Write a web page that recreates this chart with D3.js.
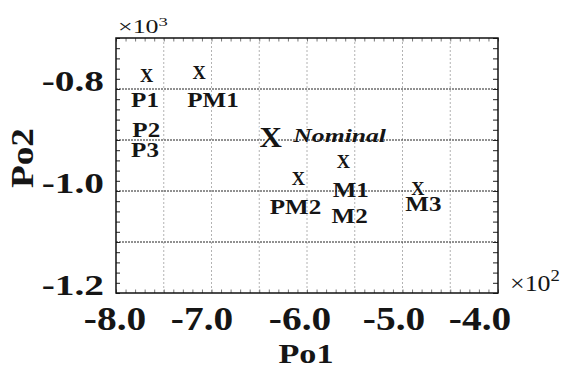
<!DOCTYPE html>
<html><head><meta charset="utf-8">
<script src="https://cdn.jsdelivr.net/npm/d3@7"></script>
<style>body{margin:0;background:#fff}</style></head>
<body>
<svg id="c" width="563" height="367"></svg>
<script>
// ---- data ----
const po1Domain = [-800, -400];
const po2Domain = [-1200, -700];
const po1TickValues = [-800, -700, -600, -500, -400];
const po2TickValues = [-800, -1000, -1200];
const po1Grid = [-750, -700, -650, -600, -550, -500, -450];
const po2Grid = [-800, -900, -1000, -1100];

const markerNames = ["P1", "PM1", "Nominal", "PM2", "M1", "M3"];
const markerPo1 = [-768, -713, -638, -609, -562, -484];
const markerPo2 = [-774, -769, -895, -976, -944, -996];

const labelTexts = ["P1", "PM1", "P2", "P3", "PM2", "M1", "M2", "M3"];
const labelPo1 = [-769.6, -698.4, -768.3, -769.6, -612.0, -554.2, -555.3, -478.2];
const labelPo2 = [-834.5, -834.5, -893.4, -932.6, -1045.5, -1012.1, -1063.2, -1038.6];

const nominalText = "Nominal";
const nominalPo1 = -614.3;
const nominalPo2 = -903.6;

// ---- layout ----
const L = 116, R = 498, T = 38, B = 293;
const xLabelNudge = [-1, -9.5, -7, -8.5, -18];
const svg = d3.select("#c");
const x = d3.scaleLinear().domain(po1Domain).range([L, R]);
const y = d3.scaleLinear().domain(po2Domain).range([B, T]);

// font detection
const cv = document.createElement("canvas").getContext("2d");
function hasFont(f) {
  const s = "abcdefgHIJKLMW0123.-";
  cv.font = "100px monospace"; const a = cv.measureText(s).width;
  cv.font = `100px '${f}', monospace`; const b = cv.measureText(s).width;
  cv.font = "100px sans-serif"; const c = cv.measureText(s).width;
  cv.font = `100px '${f}', sans-serif`; const d = cv.measureText(s).width;
  return a !== b || c !== d;
}
const FAM = ["Liberation Serif", "Nimbus Roman", "Tinos", "Times New Roman", "DejaVu Serif"].find(hasFont) || "serif";
const SERIF = `'${FAM}', serif`;

function metrics(str, weight, style) {
  cv.font = `${style} ${weight} 100px ${SERIF}`;
  const m = cv.measureText(str);
  const h = cv.measureText("H").actualBoundingBoxAscent;
  return {cap: h / 100, ink: (m.actualBoundingBoxLeft + m.actualBoundingBoxRight) / 100};
}
// fit: font size from cap height, horizontal scale from ink width of reference string
function fit(refStr, cap, ink, weight, style) {
  const m = metrics(refStr, weight, style);
  const size = cap / m.cap;
  const sx = ink / (m.ink * size);
  return {size, sx};
}
function put(g, txt, px, py, o) {
  const t = g.append("text")
    .attr("transform", `translate(${px},${py})${o.rot ? " rotate(" + o.rot + ")" : ""} scale(${o.sx},1)`)
    .attr("font-family", SERIF)
    .attr("font-size", o.size)
    .attr("font-weight", o.weight || "bold")
    .attr("font-style", o.style || "normal")
    .attr("text-anchor", o.anchor || "middle")
    .attr("fill", "#151515")
    .text(txt);
  if (o.halo) t.attr("stroke", "#fff").attr("stroke-width", o.halo).attr("paint-order", "stroke").attr("stroke-linejoin", "round");
  return t;
}

// grid
svg.append("g").selectAll("line").data(po1Grid).join("line")
  .attr("x1", d => x(d)).attr("x2", d => x(d)).attr("y1", T).attr("y2", B)
  .attr("stroke", "#a0a0a0").attr("stroke-width", 0.8).attr("stroke-dasharray", "2,2");
svg.append("g").selectAll("line").data(po2Grid).join("line")
  .attr("x1", L).attr("x2", R).attr("y1", d => y(d)).attr("y2", d => y(d))
  .attr("stroke", "#222").attr("stroke-width", 1).attr("stroke-dasharray", "2,1");

// axes (inward minor ticks)
const tickStyle = g => { g.select(".domain").remove(); g.selectAll("text").remove(); g.selectAll("line").attr("stroke", "#222").attr("stroke-width", 1); };
svg.append("g").attr("transform", `translate(${L},0)`)
  .call(d3.axisLeft(y).tickValues(d3.range(-1200, -699, 20)).tickSize(-4)).call(tickStyle);
svg.append("g").attr("transform", `translate(${R},0)`)
  .call(d3.axisRight(y).tickValues(d3.range(-1200, -699, 20)).tickSize(-5)).call(tickStyle);
svg.append("g").attr("transform", `translate(0,${B})`)
  .call(d3.axisBottom(x).tickValues(d3.range(-800, -399, 10)).tickSize(-3.5)).call(tickStyle)
  .selectAll("line").attr("stroke", "#777");
svg.append("g").attr("transform", `translate(0,${T})`)
  .call(d3.axisTop(x).tickValues(d3.range(-800, -399, 10)).tickSize(-3.5)).call(tickStyle)
  .selectAll("line").attr("stroke", "#777");

// frame
svg.append("rect").attr("x", L).attr("y", T).attr("width", R - L).attr("height", B - T)
  .attr("fill", "none").attr("stroke", "#111").attr("stroke-width", 1.5);

// tick labels
const tl = svg.append("g");
const fx = fit("-8.0", 21.5, 60, "bold", "normal");
po1TickValues.forEach((v, i) => put(tl, (v / 100).toFixed(1), x(v) + xLabelNudge[i], 330, fx));
const fy = fit("-0.8", 19.5, 60, "bold", "normal");
po2TickValues.forEach(v => put(tl, (v / 1000).toFixed(1), 104, y(v) + 2, Object.assign({anchor: "end"}, fy)));

// exponents
function expo(px, py, cap, w, sup) {
  const f = fit("×10", cap, w, "normal", "normal");
  const t = svg.append("text").attr("transform", `translate(${px},${py}) scale(${f.sx},1)`)
    .attr("font-family", SERIF).attr("font-size", f.size).attr("fill", "#151515");
  t.append("tspan").text("×10");
  t.append("tspan").attr("dy", -f.size * 0.42).attr("font-size", f.size * 0.72).text(sup);
}
expo(118, 33.3, 11.7, 38, "3");
expo(510, 290.7, 14.5, 38, "2");

// axis titles
const ft = fit("Po1", 18.3, 53, "bold", "normal");
put(svg, "Po1", 306, 362.5, ft);
put(svg, "Po2", 33, 158, Object.assign({rot: -90}, fit("Po2", 20, 58, "bold", "normal")));

// markers
const fSmall = fit("X", 11.7, 13, "bold", "normal");
const fBig = fit("X", 19, 22, "bold", "normal");
const mk = svg.append("g");
markerNames.forEach((n, i) => {
  const big = n === "Nominal";
  const f = big ? fBig : fSmall;
  put(mk, "X", x(markerPo1[i]), y(markerPo2[i]) + (big ? 9.5 : 5.9), Object.assign({halo: 3}, f));
});

// labels
const lb = svg.append("g");
const fl = fit("PM1", 14.3, 50, "bold", "normal");
labelTexts.forEach((t, i) => put(lb, t, x(labelPo1[i]), y(labelPo2[i]), fl));
const fn = fit(nominalText, 11.7, 93, "bold", "italic");
put(lb, nominalText, x(nominalPo1), y(nominalPo2), Object.assign({style: "italic", anchor: "start"}, fn));
</script>
</body></html>
